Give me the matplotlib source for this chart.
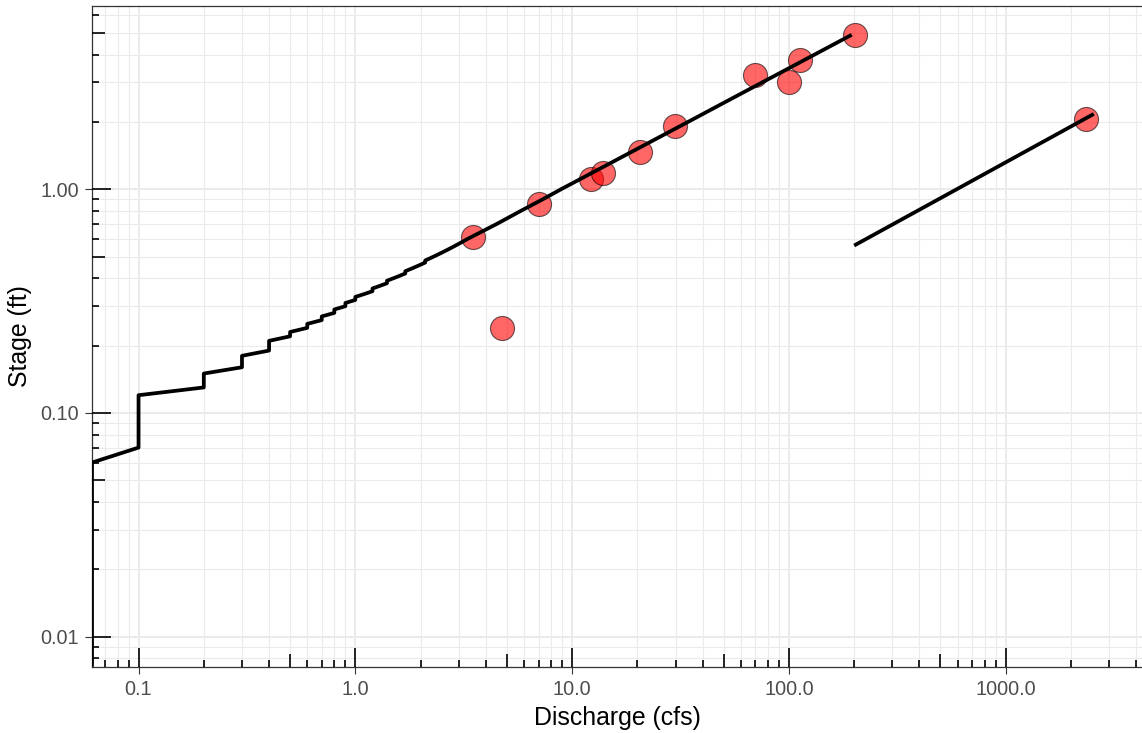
import numpy as np
import matplotlib
matplotlib.use("Agg")
import matplotlib.pyplot as plt
from matplotlib.ticker import FixedLocator, LogLocator, NullFormatter
from matplotlib.transforms import blended_transform_factory

plt.rcParams['font.family'] = ['Liberation Sans', 'DejaVu Sans']

# rating table: stage (ft) -> discharge (cfs), discharge rounded to 0.1 cfs
stage_ft = [0.00, 0.01, 0.02, 0.03, 0.04, 0.05, 0.06, 0.07, 0.08, 0.09,
            0.10, 0.11, 0.12, 0.13, 0.14, 0.15, 0.16, 0.17, 0.18, 0.19,
            0.20, 0.21, 0.22, 0.23, 0.24, 0.25, 0.26, 0.27, 0.28, 0.29,
            0.30, 0.31, 0.32, 0.33, 0.34, 0.35, 0.36, 0.37, 0.38, 0.39,
            0.40, 0.41, 0.42, 0.43, 0.44, 0.45, 0.46, 0.47, 0.48, 0.49,
            0.50, 0.51, 0.52, 0.53, 0.54, 0.55, 0.56, 0.57, 0.58, 0.59,
            0.60, 0.70, 0.80, 0.90, 1.00, 1.20, 1.50, 2.00, 2.50, 3.00,
            3.50, 4.00, 4.50, 4.90]
discharge_cfs = [0.0, 0.0, 0.0, 0.0, 0.0, 0.0, 0.0, 0.1, 0.1, 0.1,
                 0.1, 0.1, 0.1, 0.2, 0.2, 0.2, 0.3, 0.3, 0.3, 0.4,
                 0.4, 0.4, 0.5, 0.5, 0.6, 0.6, 0.7, 0.7, 0.8, 0.8,
                 0.9, 0.9, 1.0, 1.0, 1.1, 1.2, 1.2, 1.3, 1.4, 1.4,
                 1.5, 1.6, 1.7, 1.7, 1.8, 1.9, 2.0, 2.1, 2.1, 2.2,
                 2.3, 2.4, 2.5, 2.6, 2.7, 2.8, 2.9, 3.0, 3.1, 3.2,
                 3.3, 4.5, 5.8, 7.3, 8.9, 12.7, 19.6, 34.3, 52.8, 75.2,
                 101.5, 131.5, 165.2, 194.9]

# upper rating segment
upper_stage_ft = [0.56, 1.00, 1.50, 2.17]
upper_discharge_cfs = [200.0, 595.0, 1274.0, 2550.0]

# field measurements
meas_discharge = [3.5, 4.75, 7.0, 12.2, 13.9, 20.5, 29.7, 70.0, 100.0, 113.0, 201.0, 2340.0]
meas_stage = [0.61, 0.24, 0.86, 1.11, 1.18, 1.47, 1.92, 3.23, 3.02, 3.78, 4.90, 2.07]

x_lo, x_hi = 0.0610, 4254.0
y_lo, y_hi = 0.00734, 6.61

W, H = 1142, 733
fig = plt.figure(figsize=(W / 100, H / 100), dpi=100)
left, right, top, bottom = 92, 1142, 5.7, 666.7
ax = fig.add_axes([left / W, 1 - bottom / H, (right - left) / W, (bottom - top) / H])

ax.set_xscale('log')
ax.set_yscale('log')
ax.set_xlim(x_lo, x_hi)
ax.set_ylim(y_lo, y_hi)

# zero discharge / zero stage sit on the panel edge
q = np.array(discharge_cfs)
h = np.array(stage_ft)
q_plot = np.where(q > 0, q, x_lo)
h_plot = np.where(h > 0, h, y_lo)

ax.scatter(meas_discharge, meas_stage, s=300, c='red', alpha=0.6,
           edgecolors='black', linewidths=0.8, zorder=3)
ax.plot(q_plot, h_plot, color='black', lw=2.7, solid_joinstyle='round',
        solid_capstyle='butt', zorder=4)
ax.plot(upper_discharge_cfs, upper_stage_ft, color='black', lw=2.7,
        solid_capstyle='butt', zorder=4)

# grid
ax.xaxis.set_major_locator(FixedLocator([0.1, 1, 10, 100, 1000]))
ax.yaxis.set_major_locator(FixedLocator([0.01, 0.1, 1]))
ax.xaxis.set_minor_locator(LogLocator(base=10, subs=np.arange(2, 10), numticks=30))
ax.yaxis.set_minor_locator(LogLocator(base=10, subs=np.arange(2, 10), numticks=30))
ax.xaxis.set_minor_formatter(NullFormatter())
ax.yaxis.set_minor_formatter(NullFormatter())
ax.set_xticklabels(['0.1', '1.0', '10.0', '100.0', '1000.0'])
ax.set_yticklabels(['0.01', '0.10', '1.00'])
ax.set_axisbelow(True)
ax.grid(which='major', color='#EBEBEB', lw=1.4)
ax.grid(which='minor', color='#EBEBEB', lw=0.8)

ax.tick_params(which='major', direction='out', length=5, width=0.8, color='#333333',
               labelsize=14.3, labelcolor='#4D4D4D', pad=4.5)
ax.tick_params(which='minor', length=0)

for sp in ax.spines.values():
    sp.set_color('#333333')
    sp.set_linewidth(0.9)
ax.spines['right'].set_visible(False)

# log tick marks inside the panel (long at 1, medium at 5, short otherwise)
def log_marks(lo, hi):
    out = []
    for e in range(int(np.floor(np.log10(lo))), int(np.ceil(np.log10(hi))) + 1):
        for m in range(1, 10):
            v = m * 10.0 ** e
            if lo <= v <= hi:
                out.append((v, m))
    return out

tick_px = {1: 19, 5: 13}
ax_w = right - left
ax_h = bottom - top
xt = log_marks(x_lo, x_hi)
xs = [v for v, m in xt]
xl = [tick_px.get(m, 7) / ax_h for v, m in xt]
ax.vlines(xs, 0, xl, transform=blended_transform_factory(ax.transData, ax.transAxes),
          colors='black', lw=1.2, zorder=5)
yt = log_marks(y_lo, y_hi)
ys = [v for v, m in yt]
yl = [tick_px.get(m, 7) / ax_w for v, m in yt]
ax.hlines(ys, 0, yl, transform=blended_transform_factory(ax.transAxes, ax.transData),
          colors='black', lw=1.2, zorder=5)

ax.set_xlabel('Discharge (cfs)', fontsize=17.9, color='black', labelpad=5)
ax.set_ylabel('Stage (ft)', fontsize=17.9, color='black', labelpad=6)

fig.savefig('out.png', dpi=100)
